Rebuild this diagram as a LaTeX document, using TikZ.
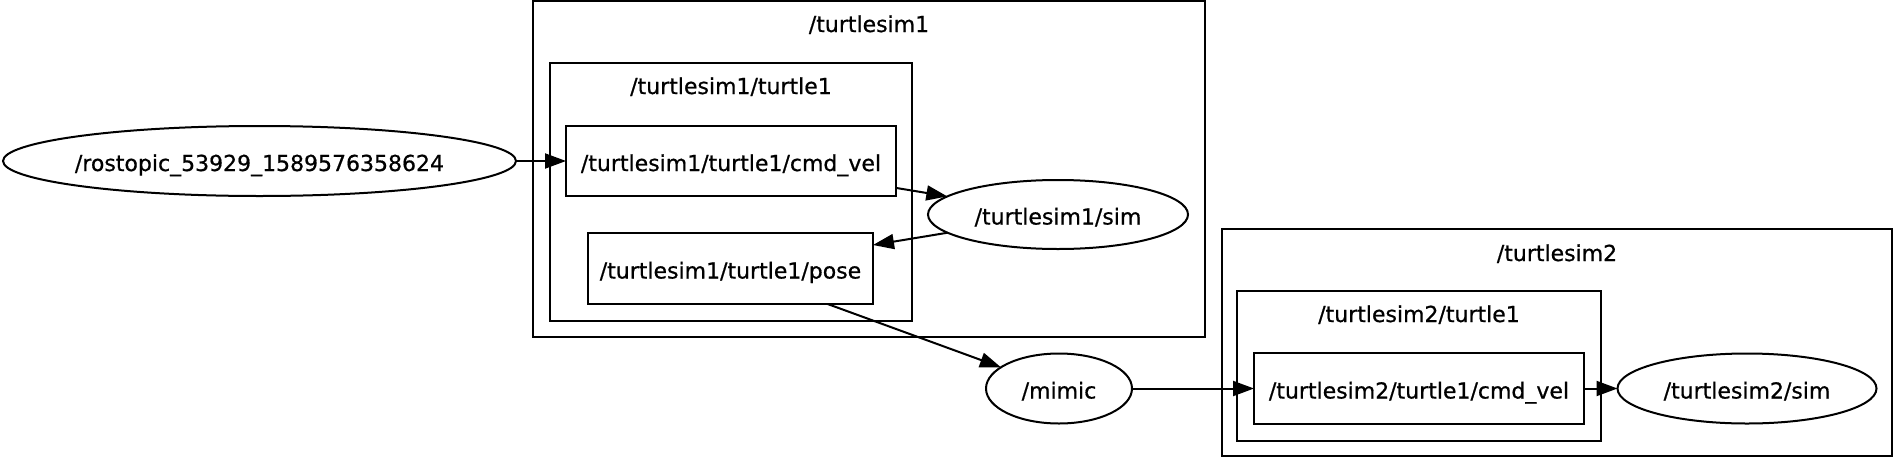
\documentclass[tikz,border=0pt]{standalone}
\usepackage{fontspec}
\setmainfont{DejaVu Sans}
\newfontfamily\graphfont{DejaVu Sans}[RawFeature={embolden=0.7}]
\usetikzlibrary{arrows.meta,shapes.geometric}

\begin{document}
\begin{tikzpicture}[x=1pt,y=-1pt,line width=2pt,>={Triangle[length=21pt,width=15pt]},
  every node/.style={font=\fontsize{22}{26}\graphfont,inner sep=0pt,outer sep=0pt,text height=20pt,text depth=0pt},
  topic/.style={draw,rectangle},
  rosnode/.style={draw,ellipse,inner xsep=-40pt},
  cluster/.style={draw,rectangle},
  clustertitle/.style={anchor=base}]
  \useasboundingbox (0,0) rectangle (1894,458);
  \node[cluster,minimum width=672,minimum height=336] (ts1) at (869,169) {};
  \node[clustertitle] (ts1title) at (869,32) {/turtlesim1};
  \node[cluster,minimum width=362,minimum height=258] (ts1turtle) at (731,192) {};
  \node[clustertitle] (ts1turtletitle) at (731,94) {/turtlesim1/turtle1};
  \node[cluster,minimum width=670,minimum height=227] (ts2) at (1557,342.5) {};
  \node[clustertitle] (ts2title) at (1557,261) {/turtlesim2};
  \node[cluster,minimum width=364,minimum height=150] (ts2turtle) at (1419,366) {};
  \node[clustertitle] (ts2turtletitle) at (1419,322) {/turtlesim2/turtle1};
  \node[rosnode,minimum width=513,minimum height=70] (rostopic) at (259.5,161) {/rostopic\_53929\_1589576358624};
  \node[topic,minimum width=330,minimum height=70] (cmdvel1) at (731,161) {/turtlesim1/turtle1/cmd\_vel};
  \node[topic,minimum width=285,minimum height=71] (pose1) at (730.5,268.5) {/turtlesim1/turtle1/pose};
  \node[rosnode,minimum width=260,minimum height=69] (sim1) at (1058,214.5) {/turtlesim1/sim};
  \node[rosnode,minimum width=146,minimum height=70] (mimic) at (1059,388.5) {/mimic};
  \node[topic,minimum width=330,minimum height=71] (cmdvel2) at (1419,388.5) {/turtlesim2/turtle1/cmd\_vel};
  \node[rosnode,minimum width=259,minimum height=70] (sim2) at (1747,388.5) {/turtlesim2/sim};
  \draw[->] (rostopic) -- (cmdvel1);
  \draw[->] (cmdvel1) -- (sim1);
  \draw[->] (sim1) -- (pose1);
  \draw[->] (pose1) -- (mimic);
  \draw[->] (mimic) -- (cmdvel2);
  \draw[->] (cmdvel2) -- (sim2);
\end{tikzpicture}
\end{document}
